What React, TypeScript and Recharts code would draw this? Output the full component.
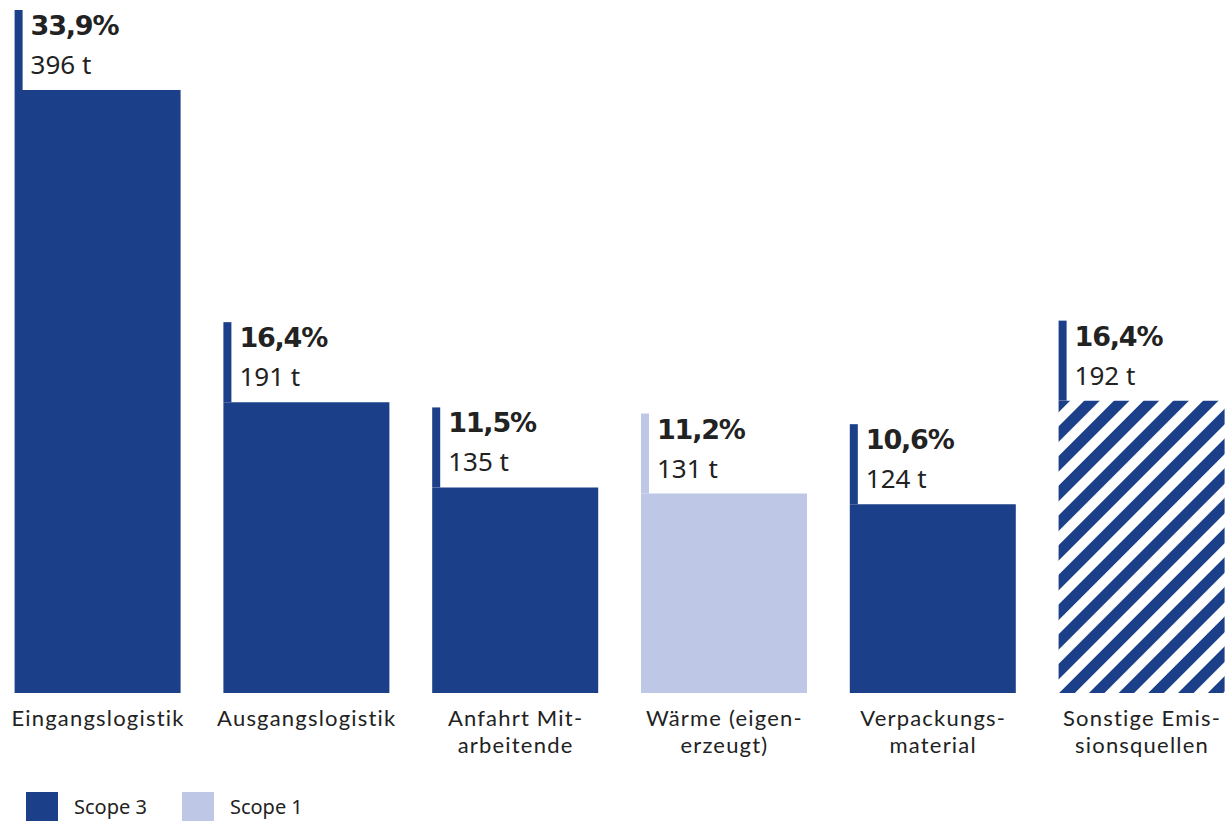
import React from "react";
import { BarChart, Bar, XAxis, YAxis, Cell, LabelList } from "recharts";

const categories = [
  "Eingangslogistik",
  "Ausgangslogistik",
  "Anfahrt Mitarbeitende",
  "Wärme (eigenerzeugt)",
  "Verpackungsmaterial",
  "Sonstige Emissionsquellen",
];
const tickLines = [
  ["Eingangslogistik"],
  ["Ausgangslogistik"],
  ["Anfahrt Mit-", "arbeitende"],
  ["Wärme (eigen-", "erzeugt)"],
  ["Verpackungs-", "material"],
  ["Sonstige Emis-", "sionsquellen"],
];
const tonnes = [396, 191, 135, 131, 124, 192];
const percents = [33.9, 16.4, 11.5, 11.2, 10.6, 16.4];
const scopes = ["Scope 3", "Scope 3", "Scope 3", "Scope 1", "Scope 3", "Sonstige"];
const legendItems = ["Scope 3", "Scope 1"];

const DARK = "#1b3f88";
const LIGHT = "#bec8e6";
const TEXT = "#222222";
const FONT = "'Noto Sans', sans-serif";
const TICK_FONT = "Lato, sans-serif";
const BOLD_FONT = "'DejaVu Sans', sans-serif";

const data = categories.map((c, i) => ({ name: c, t: tonnes[i], pct: percents[i], scope: scopes[i] }));

const fillFor = (s: string) => (s === "Scope 1" ? LIGHT : s === "Scope 3" ? DARK : "url(#stripes)");
const lineFor = (s: string) => (s === "Scope 1" ? LIGHT : DARK);

const renderLabel = (props: any) => {
  const { x, y, index } = props;
  const s = scopes[index];
  return (
    <g>
      <rect x={x} y={y - 80} width={8} height={80} fill={lineFor(s)} />
      <text x={x + 16} y={y - 55} fontSize={27} fontWeight={700} fill={TEXT} fontFamily={BOLD_FONT} letterSpacing={-1.2}>
        {percents[index].toFixed(1).replace(".", ",")}%
      </text>
      <text x={x + 16} y={y - 16} fontSize={26} fill={TEXT} fontFamily={FONT}>
        {tonnes[index]} t
      </text>
    </g>
  );
};

const renderTick = (props: any) => {
  const { x, y, index } = props;
  const lines = tickLines[index] || [];
  return (
    <g>
      {lines.map((l, i) => (
        <text
          key={i}
          x={x}
          y={y + 33 + i * 27}
          textAnchor="middle"
          fontSize={22}
          letterSpacing={1.2}
          fill={TEXT}
          fontFamily={TICK_FONT}
        >
          {l}
        </text>
      ))}
    </g>
  );
};

export default function App() {
  return (
    <div style={{ position: "absolute", left: 0, top: 0, width: 1230, height: 821, background: "#fff", overflow: "hidden" }}>
      <svg width={0} height={0} style={{ position: "absolute" }}>
        <defs>
          <pattern id="stripes" patternUnits="userSpaceOnUse" width={21} height={21} patternTransform="rotate(45)">
            <rect x={0} y={0} width={21} height={21} fill="#ffffff" />
            <rect x={0} y={0} width={11} height={21} fill={DARK} />
          </pattern>
        </defs>
      </svg>
      <BarChart
        width={1230}
        height={821}
        data={data}
        margin={{ top: 90, right: -16.4, bottom: 98, left: -6.4 }}
        barSize={166}
      >
        <XAxis
          dataKey="name"
          axisLine={false}
          tickLine={false}
          tickSize={0}
          tickMargin={0}
          height={30}
          interval={0}
          tick={renderTick}
        />
        <YAxis hide domain={[0, 396]} />
        <Bar dataKey="t" isAnimationActive={false}>
          {data.map((d, i) => (
            <Cell key={i} fill={fillFor(d.scope)} />
          ))}
          <LabelList dataKey="t" content={renderLabel} />
        </Bar>
      </BarChart>
      <div
        style={{
          position: "absolute",
          left: 26,
          top: 792,
          display: "flex",
          alignItems: "center",
          fontFamily: FONT,
          fontSize: 20,
          color: TEXT,
        }}
      >
        {legendItems.map((l) => (
          <div key={l} style={{ display: "flex", alignItems: "center", marginRight: 35 }}>
            <div style={{ width: 32, height: 29, background: l === "Scope 1" ? LIGHT : DARK, marginRight: 16 }} />
            <span>{l}</span>
          </div>
        ))}
      </div>
    </div>
  );
}
